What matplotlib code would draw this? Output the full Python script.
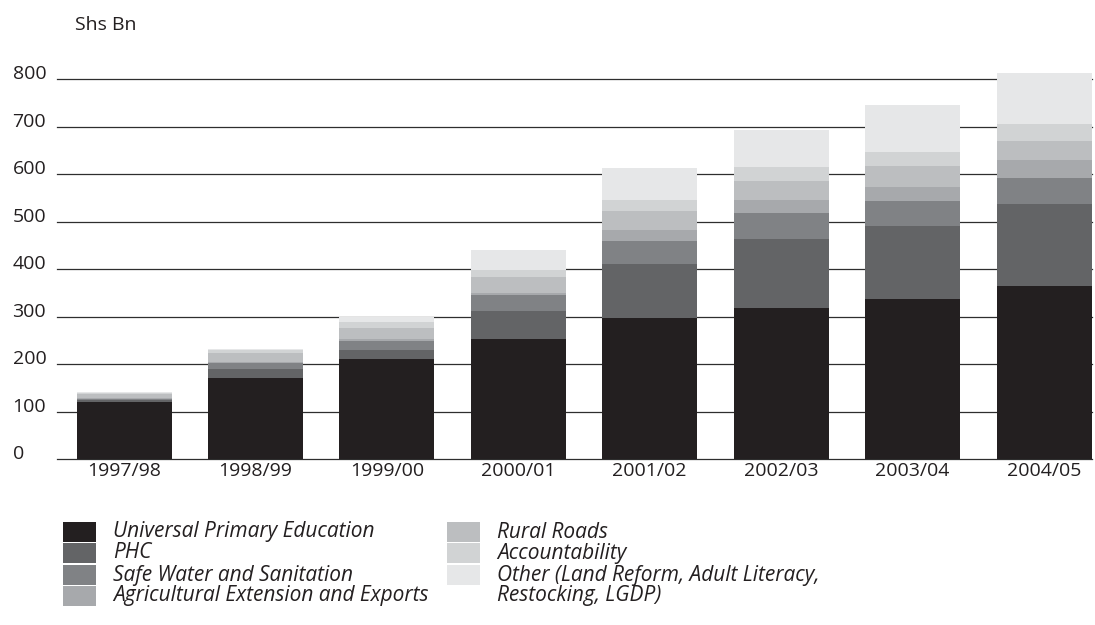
import numpy as np
import matplotlib
matplotlib.use("Agg")
import matplotlib.pyplot as plt
from matplotlib.patches import Rectangle

plt.rcParams["font.family"] = ["Open Sans", "DejaVu Sans"]

# Gasto en áreas prioritarias (Shs Bn)
anios = ["1997/98", "1998/99", "1999/00", "2000/01", "2001/02", "2002/03", "2003/04", "2004/05"]
upe = [120, 171, 211, 254, 298, 318, 337, 365]
phc = [5, 19, 19, 58, 113, 146, 154, 173]
agua = [2, 12, 19, 34, 49, 55, 53, 55]
agricultura = [1, 2, 4, 5, 23, 27, 29, 36]
carreteras = [9, 20, 24, 32, 40, 40, 44, 42]
rendicion = [3, 6, 12, 16, 23, 30, 30, 34]
otros = [1, 2, 11, 42, 67, 77, 99, 109]

series = [upe, phc, agua, agricultura, carreteras, rendicion, otros]
etiquetas = [
    "Universal Primary Education",
    "PHC",
    "Safe Water and Sanitation",
    "Agricultural Extension and Exports",
    "Rural Roads",
    "Accountability",
    "Other (Land Reform, Adult Literacy,\nRestocking, LGDP)",
]
colores = ["#231f20", "#636466", "#808285", "#a7a9ac", "#bcbec0", "#d1d3d4", "#e6e7e8"]

W, H = 1095, 625
fig = plt.figure(figsize=(W / 100, H / 100), dpi=100)
ax = fig.add_axes([57 / W, 1 - 459.3 / H, 1035 / W, (459.3 - 65) / H])

x = np.arange(len(anios))
base = np.zeros(len(anios))
for valores, color in zip(series, colores):
    ax.bar(x, valores, width=0.723, bottom=base, color=color, zorder=2)
    base += np.array(valores)

ax.set_xlim(-0.51, 7.365)
ax.set_ylim(0, 830)
ax.set_yticks(range(0, 801, 100))
ax.yaxis.grid(True, color="#2e2e2e", linewidth=0.9, zorder=1)
ax.set_axisbelow(True)
for linea in ax.get_ygridlines():
    linea.set_clip_on(False)
for s in ax.spines.values():
    s.set_visible(False)

ax.set_xticks(x)
ax.set_xticklabels(anios, fontsize=14, color="#231f20")
ax.tick_params(axis="x", length=0, pad=2)
ax.tick_params(axis="y", length=0, pad=32, labelsize=14, labelcolor="#231f20")
for lab in ax.get_yticklabels():
    lab.set_horizontalalignment("left")
    lab.set_verticalalignment("baseline")

fig.text(75 / W, 1 - 25 / H, "Shs Bn", fontsize=14, color="#231f20", va="center")

# leyenda en dos columnas
filas_y = [532, 553, 575, 596]
columnas = [(63, 113), (447, 497)]
for i, (etq, color) in enumerate(zip(etiquetas, colores)):
    col = 0 if i < 4 else 1
    fila = i if i < 4 else i - 4
    px, tx = columnas[col]
    fig.patches.append(Rectangle((px / W, 1 - (filas_y[fila] + 10) / H), 33 / W, 20 / H,
                                 transform=fig.transFigure, facecolor=color, edgecolor="none"))
    for k, linea in enumerate(etq.split("\n")):
        fig.text(tx / W, 1 - filas_y[fila + k] / H, linea, fontsize=15, style="italic",
                 color="#231f20", va="center")

fig.savefig("out.png", dpi=100)
